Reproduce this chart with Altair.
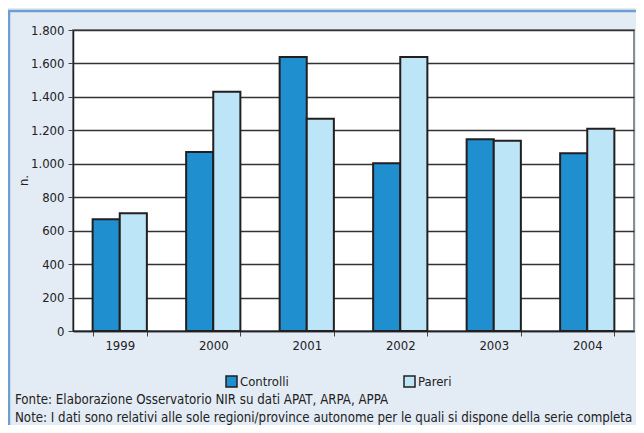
import altair as alt
import pandas as pd

years = ["1999", "2000", "2001", "2002", "2003", "2004"]
controlli = [668, 1070, 1638, 1003, 1146, 1063]
pareri = [704, 1431, 1270, 1638, 1138, 1210]
series = ["Controlli", "Pareri"]
colors = ["#1f8fcf", "#bce5f8"]
y_ticks = [0, 200, 400, 600, 800, 1000, 1200, 1400, 1600, 1800]
note_fonte = "Fonte: Elaborazione Osservatorio NIR su dati APAT, ARPA, APPA"
note_note = "Note: I dati sono relativi alle sole regioni/province autonome per le quali si dispone della serie completa"

FONT = "DejaVu Sans Condensed"
FS = 13

rows = []
for i, y in enumerate(years):
    rows.append({"anno": y, "serie": series[0], "valore": controlli[i]})
    rows.append({"anno": y, "serie": series[1], "valore": pareri[i]})
df = pd.DataFrame(rows)

W, H = 561, 301

bars = alt.Chart(df).mark_bar(stroke="#231f20", strokeWidth=2).encode(
    x=alt.X("anno:N", sort=years, title=None,
            scale=alt.Scale(paddingInner=0.42, paddingOuter=0.21),
            axis=alt.Axis(labelAngle=0, tickBand="extent", labelFont=FONT, labelFontSize=FS,
                          labelColor="#222", labelPadding=3, tickSize=5, tickColor="#444",
                          domainColor="#222", domainWidth=1.5, grid=False)),
    xOffset=alt.XOffset("serie:N", sort=series, scale=alt.Scale(paddingInner=0, paddingOuter=0)),
    y=alt.Y("valore:Q", title="n.",
            scale=alt.Scale(domain=[0, 1800], nice=False),
            axis=alt.Axis(values=y_ticks, labelExpr="replace(format(datum.value, ','), ',', '.')",
                          labelFont=FONT, labelFontSize=FS, labelColor="#222", labelPadding=4,
                          tickSize=5, tickColor="#444", domainColor="#222", domainWidth=1.5,
                          grid=True, gridColor="#333", gridWidth=1.3,
                          titleFont=FONT, titleFontSize=FS, titleFontWeight="normal",
                          titleColor="#222", titleAngle=-90, titleX=-50, titleY=150,
                          titleAlign="center", titleBaseline="middle")),
    color=alt.Color("serie:N", sort=series, title=None,
                    scale=alt.Scale(domain=series, range=colors),
                    legend=alt.Legend(orient="none", legendX=152, legendY=345, direction="horizontal",
                                      symbolType="square", symbolSize=121, symbolStrokeColor="#231f20",
                                      symbolStrokeWidth=1.5, labelFont=FONT, labelFontSize=FS,
                                      labelColor="#222", columnPadding=112, labelOffset=2)),
)

def note_layer(text, ypix):
    d = pd.DataFrame({"testo": [text]})
    return alt.Chart(d).mark_text(align="left", baseline="alphabetic", font=FONT,
                                  fontSize=13.2, color="#222").encode(
        x=alt.value(-58), y=alt.value(ypix), text="testo:N")

frame_top = alt.Chart(pd.DataFrame({"a": [0]})).mark_rule(color="#6e9fd2", strokeWidth=2.5).encode(
    x=alt.value(-66), x2=alt.value(W + 20), y=alt.value(-19)
)
frame_left = alt.Chart(pd.DataFrame({"a": [0]})).mark_rule(color="#6e9fd2", strokeWidth=2.5).encode(
    x=alt.value(-64), y=alt.value(-20), y2=alt.value(H + 100)
)

chart = alt.layer(frame_top, frame_left, bars,
                  note_layer(note_fonte, 374), note_layer(note_note, 392)).properties(
    width=W, height=H,
    background="#e3ebf5",
    padding={"left": 65, "top": 22, "right": 2, "bottom": 94},
    autosize=alt.AutoSizeParams(type="none"),
).configure_view(fill="white", stroke="#8a8f94", strokeWidth=2)

chart.save("out.html", embed_options={"renderer": "svg", "actions": False})
